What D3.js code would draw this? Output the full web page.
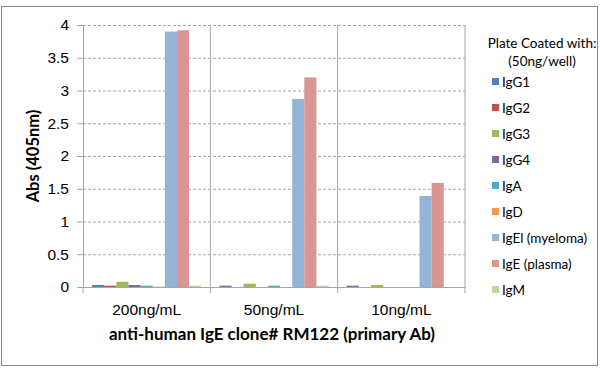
<!DOCTYPE html>
<html>
<head>
<meta charset="utf-8">
<script src="https://cdn.jsdelivr.net/npm/d3@7"></script>
<style>
  body { margin: 0; background: #fff; }
  svg { font-family: Lato, "Open Sans", sans-serif; }
  .grid line { stroke: #a6a6a6; stroke-dasharray: 3,2; }
  .grid path { display: none; }
</style>
</head>
<body>
<div id="chart"></div>
<script>
// data
var categories = ["200ng/mL", "50ng/mL", "10ng/mL"];
var seriesNames = ["IgG1", "IgG2", "IgG3", "IgG4", "IgA", "IgD", "IgEl (myeloma)", "IgE (plasma)", "IgM"];
var seriesColors = ["#4f81bd", "#c0504d", "#9bbb59", "#8064a2", "#4bacc6", "#f79646", "#95b3d7", "#d99694", "#c3d69b"];
// values per series, one per category
var igG1 = [0.03, 0.02, 0.02];
var igG2 = [0.02, 0.00, 0.00];
var igG3 = [0.08, 0.05, 0.03];
var igG4 = [0.03, 0.00, 0.00];
var igA  = [0.02, 0.02, 0.00];
var igD  = [0.005, 0.00, 0.00];
var igEl = [3.90, 2.87, 1.39];
var igE  = [3.92, 3.20, 1.59];
var igM  = [0.02, 0.02, 0.00];
var yTicks = [0, 0.5, 1, 1.5, 2, 2.5, 3, 3.5, 4];

var values = [igG1, igG2, igG3, igG4, igA, igD, igEl, igE, igM];

var W = 600, H = 375;
var margin = {top: 25, left: 83, right: 135, bottom: 88};
var width = W - margin.left - margin.right;
var height = H - margin.top - margin.bottom;

var svg = d3.select("#chart").append("svg")
    .attr("width", W)
    .attr("height", H);

// outer border
svg.append("rect")
    .attr("x", 1.5).attr("y", 6.5)
    .attr("width", 596).attr("height", 359)
    .attr("fill", "#fff")
    .attr("stroke", "#868686");

var g = svg.append("g")
    .attr("transform", "translate(" + margin.left + "," + margin.top + ")");

var yScale = d3.scaleLinear().domain([0, 4]).range([height, 0]);
var x0 = d3.scaleBand().domain(categories).range([0, width]);
var x1 = d3.scaleBand().domain(seriesNames)
    .range([0, x0.bandwidth()])
    .paddingInner(0)
    .paddingOuter(0.75);

// horizontal dashed grid
g.append("g")
    .attr("class", "grid")
    .call(d3.axisLeft(yScale).tickValues(yTicks.slice(1)).tickSize(-width).tickFormat(""));

// vertical separators
g.selectAll(".sep")
    .data(categories)
    .enter().append("line")
    .attr("x1", function(d) { return x0(d) + x0.bandwidth(); })
    .attr("x2", function(d) { return x0(d) + x0.bandwidth(); })
    .attr("y1", yScale(4)).attr("y2", height)
    .attr("stroke", "#a6a6a6");

// bars
var groups = g.selectAll(".grp")
    .data(categories)
    .enter().append("g")
    .attr("transform", function(d) { return "translate(" + x0(d) + ",0)"; });

groups.selectAll("rect")
    .data(function(d, ci) {
        return seriesNames.map(function(s, si) { return {s: s, v: values[si][ci], c: seriesColors[si]}; });
    })
    .enter().append("rect")
    .attr("x", function(d) { return x1(d.s); })
    .attr("width", x1.bandwidth())
    .attr("y", function(d) { return yScale(d.v); })
    .attr("height", function(d) { return height - yScale(d.v); })
    .attr("fill", function(d) { return d.c; });

// y axis
var yAxis = g.append("g")
    .call(d3.axisLeft(yScale).tickValues(yTicks).tickSize(6).tickPadding(8).tickFormat(d3.format("~g")));
yAxis.select(".domain").attr("stroke", "#a6a6a6");
yAxis.selectAll(".tick line").attr("stroke", "#a6a6a6");
yAxis.selectAll("text").attr("font-size", "15.5px").attr("fill", "#000");

// x axis
var xAxis = g.append("g")
    .attr("transform", "translate(0," + height + ")")
    .call(d3.axisBottom(x0).tickSize(0).tickPadding(17).tickSizeOuter(0));
xAxis.select(".domain").attr("stroke", "#a6a6a6");
xAxis.selectAll("text").attr("font-size", "15.5px").attr("fill", "#000");
xAxis.selectAll(".xt")
    .data([0, 1, 2, 3])
    .enter().append("line")
    .attr("x1", function(d) { return d * x0.bandwidth(); })
    .attr("x2", function(d) { return d * x0.bandwidth(); })
    .attr("y1", 0).attr("y2", 6)
    .attr("stroke", "#a6a6a6");

// axis titles
svg.append("text")
    .attr("transform", "translate(39," + (margin.top + height / 2) + ") rotate(-90)")
    .attr("text-anchor", "middle")
    .attr("font-size", "16.5px").attr("font-weight", "bold")
    .text("Abs (405nm)");

svg.append("text")
    .attr("x", margin.left + width / 2 - 2).attr("y", 340)
    .attr("text-anchor", "middle")
    .attr("font-size", "17px").attr("font-weight", "bold")
    .text("anti-human IgE clone# RM122 (primary Ab)");

// legend
var legend = svg.append("g");
legend.append("text").attr("x", 542).attr("y", 48)
    .attr("text-anchor", "middle").attr("font-size", "13.5px").text("Plate Coated with:");
legend.append("text").attr("x", 542).attr("y", 66)
    .attr("text-anchor", "middle").attr("font-size", "13.5px").text("(50ng/well)");

var items = legend.selectAll(".item")
    .data(seriesNames)
    .enter().append("g")
    .attr("transform", function(d, i) { return "translate(492," + (82 + i * 26) + ")"; });
items.append("rect")
    .attr("x", 0).attr("y", -4).attr("width", 7).attr("height", 7)
    .attr("fill", function(d, i) { return seriesColors[i]; });
items.append("text")
    .attr("x", 10).attr("y", 5)
    .attr("font-size", "13.5px")
    .text(function(d) { return d; });
</script>
</body>
</html>
